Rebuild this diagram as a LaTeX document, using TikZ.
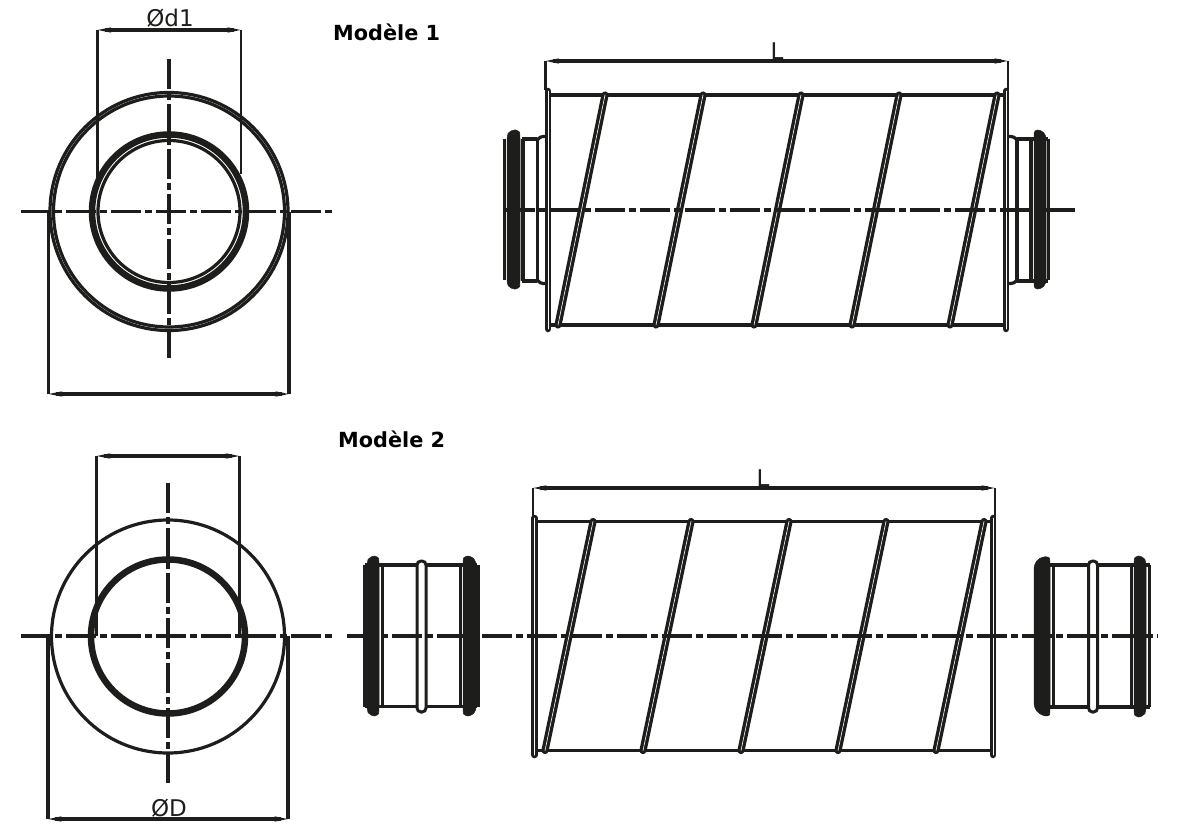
\documentclass[tikz,border=0pt]{standalone}
\usepackage{fontspec}
\setmainfont{DejaVu Sans}
\usetikzlibrary{arrows.meta}
\definecolor{ink}{HTML}{1D1D1B}
\begin{document}
\begin{tikzpicture}[x=1pt,y=-1pt]
	\tikzset{
		part/.style={draw=ink,line width=3.2pt},
		thin part/.style={draw=ink,line width=2.8pt},
		ring/.style={draw=ink,line width=6.5pt},
		axis/.style={draw=ink,line width=3.6pt,dash pattern=on 30pt off 4pt on 7pt off 4pt},
		seam/.style={draw=ink,line width=3.3pt,double=white,double distance=0.6pt,line cap=round},
		flange/.style={draw=ink,line width=3pt,double=white,double distance=0.5pt,line cap=round},
		dim/.style={draw=ink,line width=3.3pt,{Stealth[length=13pt,width=5pt]}-{Stealth[length=13pt,width=5pt]}},
		blob/.style={fill=ink,draw=ink,line width=0.5pt,rounded corners=3.5pt},
		bead/.style={draw=ink,line width=3pt,fill=white,rounded corners=4pt},
		dimtext/.style={font=\fontsize{23}{25}\selectfont,text=ink,inner sep=0pt},
		title/.style={font=\fontsize{20.8}{24}\selectfont\bfseries,text=black,inner sep=0pt}
	}
	\useasboundingbox (0,0) rectangle (1183,837);
	% Modele 1, front view
	\draw[part] (169,211.5) circle (119);
	\draw[part] (169,211.5) circle (115.5);
	\draw[ring] (169,211.5) circle (77);
	\draw[part] (169,211.5) circle (71);
	\draw[axis] (21,211.5)--(334,211.5);
	\draw[axis] (169,59)--(169,358);
	\coordinate (d1 left) at (97.5,30);
	\coordinate (d1 right) at (241,30);
	\coordinate (D1 left) at (48.5,394);
	\coordinate (D1 right) at (289,394);
	\draw[part] (d1 left)--(97.5,180);
	\draw[thin part] (d1 right)--(241,174);
	\draw[part] (D1 left)--(48.5,212);
	\draw[part] (D1 right)--(289,212);
	\draw[dim] (d1 left)--(d1 right);
	\draw[dim] (D1 left)--(D1 right);
	\node[dimtext] (d1 label) at (170,18) {Ød1};
	\node[title,anchor=west] (title one) at (333,32) {Modèle 1};
	% Modele 1, side view
	\draw[part] (551,95)--(1003,95);
	\draw[part] (551,325)--(1003,325);
	\foreach \xtop in {605,703,801,899,997}
		\draw[seam] (\xtop,95)--(\xtop-47,325);
	\draw[flange] (548,91)--(548,329);
	\draw[flange] (1006,91)--(1006,329);
	\coordinate (L1 left) at (545.5,61);
	\coordinate (L1 right) at (1008,61);
	\draw[thin part] (L1 left)--(545.5,90);
	\draw[thin part] (L1 right)--(1008,90);
	\draw[dim] (L1 left)--(L1 right);
	\node[dimtext] (L1 label) at (777,51) {L};
	% left collar
	\draw[part] (504.5,139)--(504.5,280);
	\draw[part] (522,139)--(537,139);
	\draw[part] (522,281)--(537,281);
	\draw[part,line width=4pt] (523,139)--(523,281);
	\draw[part] (537.5,140)--(537.5,280);
	\draw[part,rounded corners=3pt] (545,136.5)--(540,136.5)--(537.5,140);
	\draw[part,rounded corners=3pt] (545,283.5)--(540,283.5)--(537.5,280);
	\filldraw[blob] (507,135)--(511,130)--(519,130)--(520,135)--(520,284)--(519,289)--(511,289)--(507,284)--cycle;
	% right collar
	\draw[part] (1017,139)--(1048,139);
	\draw[part] (1017,281)--(1048,281);
	\draw[part] (1017,139)--(1017,281);
	\draw[part,line width=4pt] (1031,139)--(1031,281);
	\draw[part] (1048.5,139)--(1048.5,280);
	\draw[part,rounded corners=3pt] (1009,136.5)--(1014,136.5)--(1017,140);
	\draw[part,rounded corners=3pt] (1009,283.5)--(1014,283.5)--(1017,280);
	\filldraw[blob] (1034,130)--(1041,130)--(1046,135)--(1046,284)--(1041,289)--(1034,289)--cycle;
	\draw[axis] (505,210)--(1078,210);
	% Modele 2, front view
	\draw[part] (168,636.5) circle (116.5);
	\draw[ring] (168,636.5) circle (77);
	\draw[axis] (21,636)--(333,636);
	\draw[axis] (168,483)--(168,783);
	\coordinate (d2 left) at (96.5,456);
	\coordinate (d2 right) at (239.5,456);
	\coordinate (D2 left) at (48,819);
	\coordinate (D2 right) at (288,819);
	\draw[part] (d2 left)--(96.5,636);
	\draw[part] (d2 right)--(239.5,636);
	\draw[part] (D2 left)--(48,636);
	\draw[part] (D2 right)--(288,636);
	\draw[dim] (d2 left)--(d2 right);
	\draw[dim] (D2 left)--(D2 right);
	\node[dimtext] (D2 label) at (169,808) {ØD};
	\node[title,anchor=west] (title two) at (338,439) {Modèle 2};
	% Modele 2, side view
	\draw[part] (537,521.5)--(990,521.5);
	\draw[part] (537,750.5)--(990,750.5);
	\foreach \xtop in {593,691,789,886,984}
		\draw[seam] (\xtop,521.5)--(\xtop-48,750.5);
	\draw[flange] (534.5,518)--(534.5,755);
	\draw[flange] (993,518)--(993,755);
	\coordinate (L2 left) at (533,488);
	\coordinate (L2 right) at (995,488);
	\draw[thin part] (L2 left)--(533,518);
	\draw[thin part] (L2 right)--(995,518);
	\draw[dim] (L2 left)--(L2 right);
	\node[dimtext] (L2 label) at (763,478) {L};
	% left coupling
	\draw[part] (365,565)--(477,565);
	\draw[part] (365,706.5)--(477,706.5);
	\draw[part] (365,565)--(365,706.5);
	\draw[part] (478,565)--(478,706.5);
	\draw[part] (382.5,565)--(382.5,706.5);
	\draw[part] (460.5,565)--(460.5,706.5);
	\filldraw[blob] (367,561)--(371,556)--(378,556)--(379,561)--(379,711)--(378,716)--(371,716)--(367,711)--cycle;
	\filldraw[blob] (463,561)--(464,556)--(471,556)--(476,561)--(476,711)--(471,716)--(464,716)--(463,711)--cycle;
	\filldraw[bead] (417,561) rectangle (426,712);
	% right coupling
	\draw[part] (1036,565)--(1150,565);
	\draw[part] (1036,707)--(1150,707);
	\draw[part] (1149.5,565)--(1149.5,707);
	\draw[part] (1053.5,565)--(1053.5,707);
	\draw[part] (1131.5,565)--(1131.5,707);
	\filldraw[blob] (1034,565)--(1039,558)--(1049,556)--(1050,561)--(1050,712)--(1049,717)--(1039,714)--(1034,707)--cycle;
	\filldraw[blob] (1134,561)--(1135,556)--(1142,556)--(1146,561)--(1146,712)--(1142,717)--(1135,717)--(1134,712)--cycle;
	\filldraw[bead] (1088.5,561) rectangle (1097.5,712);
	\draw[axis] (347,636)--(1158,636);
\end{tikzpicture}
\end{document}
